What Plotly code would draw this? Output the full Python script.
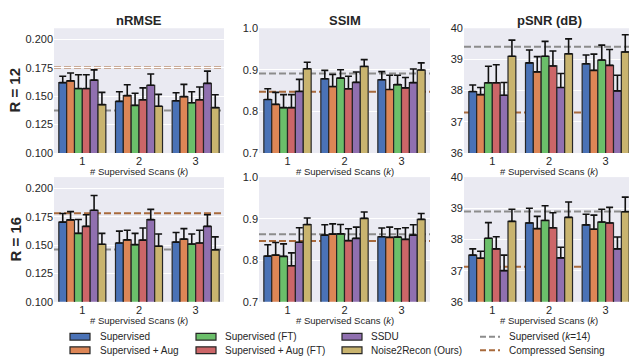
import plotly.graph_objects as go

W, H = 629, 362
FONT = "Liberation Sans, Arial, sans-serif"
TEXT = "#262626"

METHODS = ["Supervised", "Supervised + Aug", "Supervised (FT)",
           "Supervised + Aug (FT)", "SSDU", "Noise2Recon (Ours)"]
COLORS = ["#4a72b6", "#dd8656", "#6bbf6a", "#cc6668", "#9070b0", "#c9b46f"]
BASELINES = ["Supervised (<i>k</i>=14)", "Compressed Sensing"]
BASE_COLORS = ["#8c8c8c", "#a86a3c"]
K_LABELS = ["1", "2", "3"]
METRICS = ["nRMSE", "SSIM", "pSNR (dB)"]
ROWS = ["R = 12", "R = 16"]

# mean per method (rows) for k = 1, 2, 3 ; err = upper error bar length
nrmse_r12_mean = [[0.1620, 0.1455, 0.1460], [0.1636, 0.1506, 0.1497],
                  [0.1568, 0.1420, 0.1443], [0.1568, 0.1469, 0.1469],
                  [0.1642, 0.1597, 0.1614], [0.1426, 0.1412, 0.1400]]
nrmse_r12_err = [[0.0056, 0.0085, 0.0071], [0.0069, 0.0096, 0.0108],
                 [0.0122, 0.0106, 0.0097], [0.0122, 0.0105, 0.0113],
                 [0.0091, 0.0099, 0.0108], [0.0108, 0.0105, 0.0114]]
nrmse_r12_lines = [0.1375, 0.1753]

ssim_r12_mean = [[0.8286, 0.8784, 0.8761], [0.8169, 0.8597, 0.8527],
                 [0.8091, 0.8800, 0.8644], [0.8091, 0.8543, 0.8566],
                 [0.8480, 0.8699, 0.8691], [0.9026, 0.9081, 0.8995]]
ssim_r12_err = [[0.0257, 0.0203, 0.0195], [0.0288, 0.0289, 0.0343],
                [0.0312, 0.0203, 0.0226], [0.0312, 0.0304, 0.0250],
                [0.0289, 0.0249, 0.0327], [0.0156, 0.0163, 0.0171]]
ssim_r12_lines = [0.891, 0.847]

psnr_r12_mean = [[37.97, 38.89, 38.86], [37.87, 38.60, 38.65],
                 [38.25, 39.10, 38.98], [38.25, 38.79, 38.81],
                 [37.85, 38.10, 37.99], [39.10, 39.18, 39.24]]
psnr_r12_err = [[0.21, 0.41, 0.28], [0.23, 0.49, 0.52],
                [0.53, 0.48, 0.48], [0.58, 0.48, 0.51],
                [0.41, 0.45, 0.50], [0.52, 0.48, 0.55]]
psnr_r12_lines = [39.41, 37.30]

nrmse_r16_mean = [[0.1703, 0.1519, 0.1527], [0.1723, 0.1547, 0.1553],
                  [0.1604, 0.1505, 0.1510], [0.1666, 0.1544, 0.1519],
                  [0.1808, 0.1725, 0.1666], [0.1508, 0.1491, 0.1459]]
nrmse_r16_err = [[0.0076, 0.0105, 0.0085], [0.0073, 0.0085, 0.0093],
                 [0.0122, 0.0099, 0.0088], [0.0102, 0.0108, 0.0113],
                 [0.0130, 0.0091, 0.0102], [0.0096, 0.0107, 0.0114]]
nrmse_r16_lines = [0.1462, 0.1782]

ssim_r16_mean = [[0.8100, 0.8605, 0.8566], [0.8124, 0.8628, 0.8550],
                 [0.8093, 0.8636, 0.8558], [0.7868, 0.8473, 0.8504],
                 [0.8434, 0.8527, 0.8605], [0.8860, 0.9008, 0.8984]]
ssim_r16_err = [[0.0272, 0.0248, 0.0209], [0.0302, 0.0248, 0.0248],
                [0.0302, 0.0224, 0.0202], [0.0310, 0.0287, 0.0279],
                [0.0349, 0.0271, 0.0248], [0.0156, 0.0155, 0.0140]]
ssim_r16_lines = [0.8628, 0.8465]

psnr_r16_mean = [[37.50, 38.53, 38.47], [37.40, 38.35, 38.33],
                 [38.04, 38.61, 38.56], [37.70, 38.375, 38.53],
                 [37.00, 37.41, 37.70], [38.58, 38.71, 38.89]]
psnr_r16_err = [[0.20, 0.47, 0.34], [0.225, 0.39, 0.45],
                [0.50, 0.47, 0.41], [0.39, 0.485, 0.50],
                [0.50, 0.34, 0.38], [0.39, 0.49, 0.47]]
psnr_r16_lines = [38.90, 37.125]

panels = [
    (nrmse_r12_mean, nrmse_r12_err, nrmse_r12_lines),
    (ssim_r12_mean, ssim_r12_err, ssim_r12_lines),
    (psnr_r12_mean, psnr_r12_err, psnr_r12_lines),
    (nrmse_r16_mean, nrmse_r16_err, nrmse_r16_lines),
    (ssim_r16_mean, ssim_r16_err, ssim_r16_lines),
    (psnr_r16_mean, psnr_r16_err, psnr_r16_lines),
]

y_axes_spec = [
    dict(range=[0.1, 0.21], tickvals=[0.1, 0.125, 0.15, 0.175, 0.2], tickformat=".3f"),
    dict(range=[0.7, 1.0], tickvals=[0.7, 0.8, 0.9, 1.0], tickformat=".1f"),
    dict(range=[36, 40], tickvals=[36, 37, 38, 39, 40], tickformat="d"),
]

# pixel geometry of the panel grid
COL_PX = [(54, 224), (259, 430), (464, 634)]
ROW_PX = [(23, 152), (177, 306)]


def fx(px):
    return px / W


def fy(py):
    return 1 - py / H


fig = go.Figure()
layout = dict(
    width=W, height=H, margin=dict(l=0, r=0, t=0, b=0),
    paper_bgcolor="white", plot_bgcolor="#eaeaf2",
    barmode="group", bargap=0.17, bargroupgap=0,
    showlegend=False, font=dict(family=FONT, size=11, color=TEXT),
)
shapes, annotations = [], []

for p, (means, errs, lines) in enumerate(panels):
    r, c = divmod(p, 3)
    s = "" if p == 0 else str(p + 1)
    x0, x1 = COL_PX[c]
    unit = (x1 - x0) / 3.0
    x1c = min(x1, W)
    xr = [-0.5, -0.5 + (x1c - x0) / unit]
    y0, y1 = ROW_PX[r]

    for m in range(len(METHODS)):
        fig.add_trace(go.Bar(
            x=[0, 1, 2], y=means[m], name=METHODS[m],
            xaxis="x" + s, yaxis="y" + s,
            marker=dict(color=COLORS[m], line=dict(color="#262626", width=1.2)),
            error_y=dict(type="data", array=errs[m], arrayminus=[0, 0, 0],
                         symmetric=False, color="#111111", thickness=1.6, width=3.5),
        ))

    layout["xaxis" + s] = dict(
        domain=[fx(x0), fx(x1c)], range=xr, anchor="y" + s,
        tickvals=[0, 1, 2], ticktext=K_LABELS, showgrid=False,
        zeroline=False, showline=False, ticks="",
        tickfont=dict(size=11, color=TEXT),
    )
    layout["yaxis" + s] = dict(
        domain=[fy(y1), fy(y0)], anchor="x" + s,
        gridcolor="white", gridwidth=1, zeroline=False, showline=False,
        ticks="", tickfont=dict(size=11, color=TEXT),
        **y_axes_spec[c],
    )

    # reference levels, spanning the full x range, beneath the bars
    for v, col in zip(lines, BASE_COLORS):
        shapes.append(dict(
            type="line", xref="x" + s, yref="y" + s,
            x0=xr[0], x1=xr[1], y0=v, y1=v, layer="below",
            line=dict(color=col, width=2, dash="7px,3px"),
        ))

    annotations.append(dict(
        text="# Supervised Scans (<i>k</i>)", xref="paper", yref="paper",
        x=fx((x0 + x1) / 2), y=fy(y1 + 19), showarrow=False,
        xanchor="center", yanchor="middle", font=dict(size=9.5, color=TEXT),
    ))
    if r == 0:
        annotations.append(dict(
            text="<b>%s</b>" % METRICS[c], xref="paper", yref="paper",
            x=fx((x0 + x1) / 2), y=fy(15), showarrow=False,
            xanchor="center", yanchor="middle", font=dict(size=13, color=TEXT),
        ))

for r, lab in enumerate(ROWS):
    y0, y1 = ROW_PX[r]
    annotations.append(dict(
        text="<b>%s</b>" % lab, xref="paper", yref="paper",
        x=fx(15), y=fy((y0 + y1) / 2), showarrow=False, textangle=-90,
        xanchor="center", yanchor="middle", font=dict(size=15, color=TEXT),
    ))

# legend: two rows, column-major order
LEG_COLS = [(70, 98), (196, 223), (342, 369)]
LEG_ROWS = [342, 356]
for m, name in enumerate(METHODS):
    cx, tx = LEG_COLS[m // 2]
    cy = LEG_ROWS[m % 2]
    shapes.append(dict(
        type="rect", xref="paper", yref="paper",
        x0=fx(cx), x1=fx(cx + 20), y0=fy(cy + 3.5), y1=fy(cy - 3.5),
        fillcolor=COLORS[m], line=dict(color="#262626", width=1.2),
    ))
    annotations.append(dict(
        text=name, xref="paper", yref="paper", x=fx(tx), y=fy(cy),
        showarrow=False, xanchor="left", yanchor="middle",
        font=dict(size=10, color=TEXT),
    ))
for i, (name, col) in enumerate(zip(BASELINES, BASE_COLORS)):
    cy = LEG_ROWS[i]
    shapes.append(dict(
        type="line", xref="paper", yref="paper",
        x0=fx(480), x1=fx(500), y0=fy(cy), y1=fy(cy),
        line=dict(color=col, width=2, dash="6px,3px"),
    ))
    annotations.append(dict(
        text=name, xref="paper", yref="paper", x=fx(507), y=fy(cy),
        showarrow=False, xanchor="left", yanchor="middle",
        font=dict(size=10, color=TEXT),
    ))

layout["shapes"] = shapes
layout["annotations"] = annotations
fig.update_layout(**layout)
fig.write_html("out.html")
